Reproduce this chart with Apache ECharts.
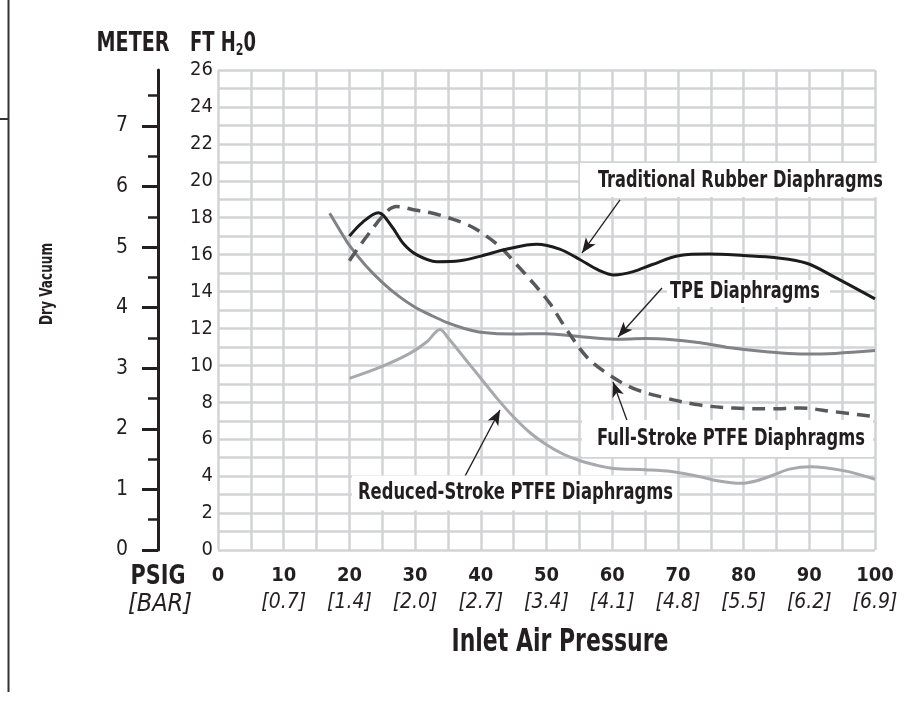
<!DOCTYPE html>
<html>
<head>
<meta charset="utf-8">
<script src="https://cdn.jsdelivr.net/npm/echarts@6/dist/echarts.min.js"></script>
<style>
  html, body { margin: 0; padding: 0; background: #fff; }
  #chart { width: 911px; height: 702px; }
</style>
</head>
<body>
<div id="chart"></div>
<script>
// Dry vacuum (ft H2O) versus inlet air pressure (psig) for four diaphragm types.
const FONT = "'Liberation Sans Narrow', 'DejaVu Sans Condensed', sans-serif";
const INK = '#231f20';
const GRID_LINE = '#d1d3d4';
const FT_PER_M = 3.28084;

// Tick labels
const psigTicks = [0, 10, 20, 30, 40, 50, 60, 70, 80, 90, 100];
const barTicks = ['', '[0.7]', '[1.4]', '[2.0]', '[2.7]', '[3.4]', '[4.1]', '[4.8]', '[5.5]', '[6.2]', '[6.9]'];
const ftTicks = [0, 2, 4, 6, 8, 10, 12, 14, 16, 18, 20, 22, 24, 26];
const meterMajor = [0, 1, 2, 3, 4, 5, 6, 7];
const meterMinor = [0.5, 1.5, 2.5, 3.5, 4.5, 5.5, 6.5, 7.5];

// Curves: [inlet psig, dry vacuum ft H2O]
const rubber = [
  [20, 17.0], [22, 17.75], [24.4, 18.27], [26.4, 17.55], [28.2, 16.6], [30.2, 16.0],
  [33.3, 15.62], [36.8, 15.67], [40, 15.92], [44, 16.3], [48.5, 16.56], [52, 16.3],
  [55, 15.75], [58, 15.15], [60.3, 14.9], [63.2, 15.08], [66, 15.45], [70.3, 15.95],
  [74.6, 16.03], [80, 15.95], [85, 15.83], [89.6, 15.53], [94, 14.75], [100, 13.6]
];
const tpe = [
  [17, 18.24], [18.5, 17.35], [20, 16.5], [22.5, 15.4], [25, 14.5], [27.5, 13.75],
  [30, 13.15], [32.5, 12.7], [35, 12.3], [37.5, 12.0], [40, 11.8], [45, 11.7],
  [50, 11.72], [55, 11.56], [60.5, 11.42], [65, 11.45], [68.3, 11.42], [73.4, 11.23],
  [78, 10.95], [83.5, 10.74], [88.6, 10.62], [94, 10.65], [100, 10.8]
];
const fullStroke = [
  [20, 15.67], [22.6, 16.97], [25.7, 18.33], [27.2, 18.6], [30.2, 18.4], [32.7, 18.24],
  [35.3, 17.97], [37.8, 17.65], [39.9, 17.24], [42.9, 16.43], [45.5, 15.44], [48, 14.45],
  [50.5, 13.36], [53.1, 11.92], [56.1, 10.47], [59.2, 9.57], [63.2, 8.76], [68.3, 8.22],
  [73.4, 7.85], [78.4, 7.69], [84, 7.65], [88.6, 7.69], [93.6, 7.5], [100, 7.22]
];
const reducedStroke = [
  [20, 9.3], [25, 9.95], [29.2, 10.65], [31.8, 11.28], [33.8, 11.95], [35, 11.5],
  [37.5, 10.4], [40, 9.3], [42.5, 8.2], [45, 7.2], [47.5, 6.35], [50, 5.7],
  [52.5, 5.2], [55, 4.85], [57.5, 4.6], [60.2, 4.42], [65, 4.35], [69, 4.25],
  [73.4, 3.97], [76, 3.75], [79.5, 3.61], [82, 3.75], [84.5, 4.06], [87, 4.38],
  [90.1, 4.51], [95.2, 4.3], [100, 3.83]
];

// Callouts: text centre and leader arrow in data units; box padding [top, right, bottom, left] in px
const callouts = [
  { text: 'Traditional Rubber Diaphragms', at: [79.53, 19.99], width: 285, pad: [18, 7, 16, 18], from: [61.19, 18.96], to: [55.4, 16.09] },
  { text: 'TPE Diaphragms', at: [80.21, 13.98], width: 150, pad: [12, 10, 15, 3], from: [67.58, 14.19], to: [60.88, 11.54] },
  { text: 'Full-Stroke PTFE Diaphragms', at: [78.08, 6.01], width: 268, pad: [19, 8, 18, 15], from: [62.4, 6.88], to: [60.12, 9.1] },
  { text: 'Reduced-Stroke PTFE Diaphragms', at: [45.28, 3.06], width: 315, pad: [18, 4, 17, 6], from: [37.6, 4.0], to: [42.92, 7.58] }
];

// Horizontal squeeze so the wide fallback face sets at the condensed widths
const measureCtx = document.createElement('canvas').getContext('2d');
function squeeze(text, font, width) {
  measureCtx.font = font;
  const w = measureCtx.measureText(text).width;
  return w > 0 ? Math.min(1, width / w) : 1;
}

function curve(name, data, color, width, dash, arrow) {
  return {
    name: name,
    type: 'line',
    data: data,
    yAxisIndex: 0,
    smooth: 0.35,
    symbol: 'none',
    lineStyle: { color: color, width: width, type: dash || 'solid', cap: 'butt' },
    emphasis: { disabled: true },
    z: 3,
    markLine: {
      silent: true,
      animation: false,
      symbol: ['none', 'arrow'],
      symbolSize: [9, 15],
      label: { show: false },
      lineStyle: { color: INK, width: 1.3, type: 'solid' },
      data: [[{ coord: arrow.from }, { coord: arrow.to }]]
    }
  };
}

const chart = echarts.init(document.getElementById('chart'), null, { renderer: 'canvas' });

chart.setOption({
  backgroundColor: '#fff',
  animation: false,
  grid: { left: 218, right: 36, top: 70, bottom: 152, containLabel: false, outerBoundsMode: 'none' },
  xAxis: {
    type: 'value',
    min: 0, max: 100, interval: 5,
    axisLine: { show: false },
    axisTick: { show: false },
    splitLine: { show: true, lineStyle: { color: GRID_LINE, width: 2.5 } },
    axisLabel: {
      customValues: psigTicks,
      margin: 12,
      formatter: function (v) {
        const bar = barTicks[psigTicks.indexOf(v)];
        return bar ? '{n|' + v + '}\n{b|' + bar + '}' : '{n|' + v + '}';
      },
      rich: {
        n: { fontFamily: FONT, fontWeight: 'bold', fontSize: 20, color: INK, lineHeight: 27 },
        b: { fontFamily: FONT, fontStyle: 'italic', fontSize: 21, color: INK, lineHeight: 27 }
      }
    }
  },
  yAxis: [
    {
      type: 'value',
      position: 'left',
      min: 0, max: 26, interval: 1,
      axisLine: { show: false },
      axisTick: { show: false },
      splitLine: { show: true, lineStyle: { color: GRID_LINE, width: 2.5 } },
      axisLabel: { customValues: ftTicks, margin: 5, fontFamily: FONT, fontSize: 20, color: INK }
    },
    {
      type: 'value',
      position: 'left',
      offset: 60,
      min: 0, max: 26 / FT_PER_M,
      axisLine: { show: true, lineStyle: { color: INK, width: 3 } },
      axisTick: { show: true, customValues: meterMajor, length: 16, lineStyle: { color: INK, width: 3 } },
      axisLabel: { customValues: meterMajor, margin: 30, fontFamily: FONT, fontSize: 21, color: INK },
      splitLine: { show: false }
    },
    {
      type: 'value',
      position: 'left',
      offset: 60,
      min: 0, max: 26 / FT_PER_M,
      axisLine: { show: false },
      axisTick: { show: true, customValues: meterMinor, length: 10, lineStyle: { color: INK, width: 2.5 } },
      axisLabel: { show: false },
      splitLine: { show: false }
    }
  ],
  series: [
    curve('Reduced-Stroke PTFE Diaphragms', reducedStroke, '#a7a9ac', 3, null, callouts[3]),
    curve('TPE Diaphragms', tpe, '#808285', 3, null, callouts[1]),
    curve('Full-Stroke PTFE Diaphragms', fullStroke, '#58595b', 3.5, [13, 8], callouts[2]),
    curve('Traditional Rubber Diaphragms', rubber, '#1c1c1c', 3, null, callouts[0])
  ]
});

function plainText(text, x, y, font, width, extra) {
  return Object.assign({
    type: 'text', silent: true, x: x, y: y, z: 20,
    scaleX: squeeze(text, font, width),
    style: { text: text, fill: INK, font: font, align: 'center', verticalAlign: 'middle' }
  }, extra || {});
}

const graphics = [
  // page rule at the left edge
  { type: 'line', silent: true, shape: { x1: 8.5, y1: 0, x2: 8.5, y2: 692 }, style: { stroke: '#333', lineWidth: 2 } },
  { type: 'line', silent: true, shape: { x1: 0, y1: 119, x2: 8.5, y2: 119 }, style: { stroke: '#333', lineWidth: 2 } },
  plainText('METER', 133, 44, 'bold 26px ' + FONT, 73),
  plainText('Dry Vacuum', 47, 284, 'bold 18px ' + FONT, 82, { rotation: Math.PI / 2 }),
  plainText('PSIG', 158, 577, 'bold 27px ' + FONT, 55),
  plainText('[BAR]', 160, 604, 'italic 25px ' + FONT, 64),
  plainText('Inlet Air Pressure', 560, 643, 'bold 32px ' + FONT, 217)
];

// FT H2O unit heading with subscript
(function () {
  measureCtx.font = 'bold 26px ' + FONT;
  let w = measureCtx.measureText('FT H').width + measureCtx.measureText('0').width;
  measureCtx.font = 'bold 16px ' + FONT;
  w += measureCtx.measureText('2').width;
  graphics.push({
    type: 'text', silent: true, x: 190, y: 44, z: 20,
    scaleX: Math.min(1, 66 / w),
    style: {
      text: '{a|FT H}{s|2}{a|0}',
      align: 'left', verticalAlign: 'middle',
      rich: {
        a: { fill: INK, fontFamily: FONT, fontWeight: 'bold', fontSize: 26, lineHeight: 30 },
        s: { fill: INK, fontFamily: FONT, fontWeight: 'bold', fontSize: 16, lineHeight: 14, verticalAlign: 'bottom' }
      }
    }
  });
})();

// Callout boxes placed through the grid's coordinate system
callouts.forEach(function (c) {
  const p = chart.convertToPixel({ gridIndex: 0 }, c.at);
  const half = c.width / 2;
  graphics.push({
    type: 'rect', silent: true, z: 15,
    shape: {
      x: p[0] - half - c.pad[3],
      y: p[1] - c.pad[0],
      width: c.width + c.pad[1] + c.pad[3],
      height: c.pad[0] + c.pad[2]
    },
    style: { fill: '#fff' }
  });
  graphics.push(plainText(c.text, p[0], p[1], 'bold 23px ' + FONT, c.width));
});

chart.setOption({ graphic: graphics });
</script>
</body>
</html>
